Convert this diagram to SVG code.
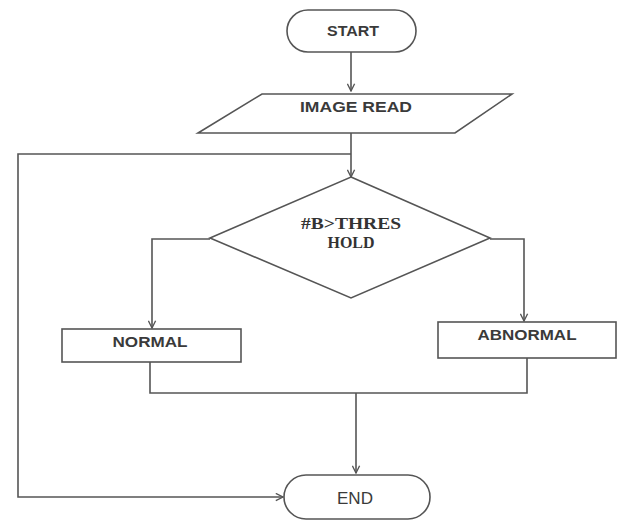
<svg xmlns="http://www.w3.org/2000/svg" width="618" height="522" viewBox="0 0 618 522">
<defs>
<style>
.shape{fill:#fff;stroke:#555;stroke-width:1.6}
.conn{fill:none;stroke:#555;stroke-width:1.6}
.lbl{font-family:"Liberation Sans",Arial,sans-serif;font-weight:bold;font-size:14px;fill:#3a3a3a;text-anchor:middle}
.ser{font-family:"Liberation Serif","Times New Roman",serif;font-weight:bold;font-size:16px;fill:#333;text-anchor:middle}
</style>
<marker id="arr" viewBox="0 0 10 10" refX="9" refY="5" markerWidth="9" markerHeight="9" orient="auto" markerUnits="userSpaceOnUse">
<path d="M1,1 L9,5 L1,9" fill="none" stroke="#555" stroke-width="1.5"/>
</marker>
</defs>
<rect width="618" height="522" fill="#fff"/>
<g id="connectors">
<path class="conn" d="M351,52 V91" marker-end="url(#arr)"/>
<path class="conn" d="M351,133 V177" marker-end="url(#arr)"/>
<path class="conn" d="M351,154 H18 V497 H283" marker-end="url(#arr)"/>
<path class="conn" d="M210,239 H152 V328" marker-end="url(#arr)"/>
<path class="conn" d="M490,239 H524 V321" marker-end="url(#arr)"/>
<path class="conn" d="M150,362 V393 H527 V358"/>
<path class="conn" d="M356,393 V473" marker-end="url(#arr)"/>
</g>
<g id="start">
<rect class="shape" x="287" y="10" width="129" height="42" rx="21"/>
<text class="lbl" x="353" y="36" textLength="52" lengthAdjust="spacingAndGlyphs">START</text>
</g>
<g id="image-read">
<polygon class="shape" points="262,94 512,94 455,133 198,133"/>
<text class="lbl" x="356" y="112" textLength="112" lengthAdjust="spacingAndGlyphs">IMAGE READ</text>
</g>
<g id="decision">
<polygon class="shape" points="351,177 490,238 351,298 210,238"/>
<text class="ser" x="351" y="229" textLength="100" lengthAdjust="spacingAndGlyphs">#B&gt;THRES</text>
<text class="ser" x="351" y="248" textLength="47" lengthAdjust="spacingAndGlyphs">HOLD</text>
</g>
<g id="normal">
<rect class="shape" x="62" y="329" width="179" height="33"/>
<text class="lbl" x="150" y="347" textLength="75" lengthAdjust="spacingAndGlyphs">NORMAL</text>
</g>
<g id="abnormal">
<rect class="shape" x="438" y="322" width="178" height="36"/>
<text class="lbl" x="527" y="340" textLength="99" lengthAdjust="spacingAndGlyphs">ABNORMAL</text>
</g>
<g id="end">
<rect class="shape" x="284" y="475" width="146" height="44" rx="22"/>
<text class="lbl" x="355" y="504" style="font-weight:normal;font-size:16px" textLength="36" lengthAdjust="spacingAndGlyphs">END</text>
</g>
</svg>
